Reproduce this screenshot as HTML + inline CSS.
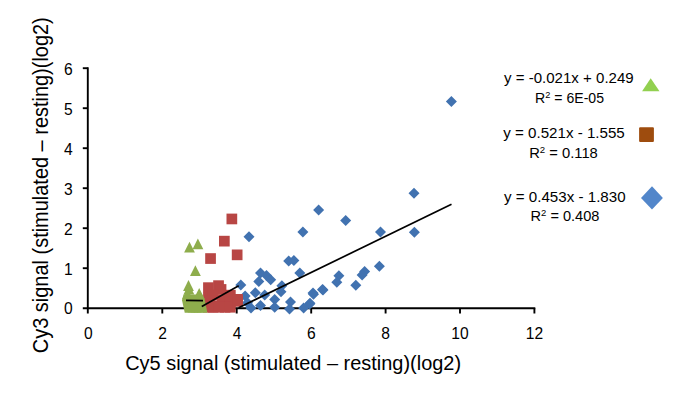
<!DOCTYPE html>
<html><head><meta charset="utf-8"><title>chart</title>
<style>
html,body{margin:0;padding:0;background:#fff;}
body{width:685px;height:397px;overflow:hidden;font-family:"Liberation Sans",sans-serif;}
svg{display:block;}
text{font-family:"Liberation Sans",sans-serif;fill:#000;}
</style></head><body>
<svg width="685" height="397" viewBox="0 0 685 397">
<rect width="685" height="397" fill="#fff"/>

<g stroke="#000" stroke-width="1.9" fill="none">
<path d="M87.8 67.3V313.5"/>
<path d="M82.8 308.2H535.3"/>
<path d="M82.8 268.2H87.8"/>
<path d="M82.8 228.2H87.8"/>
<path d="M82.8 188.2H87.8"/>
<path d="M82.8 148.2H87.8"/>
<path d="M82.8 108.2H87.8"/>
<path d="M82.8 68.2H87.8"/>
<path d="M162.3 308.2V313.5"/>
<path d="M236.7 308.2V313.5"/>
<path d="M311.2 308.2V313.5"/>
<path d="M385.6 308.2V313.5"/>
<path d="M460.0 308.2V313.5"/>
<path d="M534.4 308.2V313.5"/>
</g>
<g fill="#4172B0">
<path d="M240.8 279.4L246.3 284.9L240.8 290.4L235.3 284.9Z"/>
<path d="M245.1 290.6L250.6 296.1L245.1 301.6L239.6 296.1Z"/>
<path d="M255.3 287.2L260.8 292.7L255.3 298.2L249.8 292.7Z"/>
<path d="M258.8 276.0L264.3 281.5L258.8 287.0L253.3 281.5Z"/>
<path d="M260.5 267.5L266.0 273.0L260.5 278.5L255.0 273.0Z"/>
<path d="M266.5 270.0L272.0 275.5L266.5 281.0L261.0 275.5Z"/>
<path d="M270.7 274.3L276.2 279.8L270.7 285.3L265.2 279.8Z"/>
<path d="M264.7 289.4L270.2 294.9L264.7 300.4L259.2 294.9Z"/>
<path d="M251.0 302.6L256.5 308.1L251.0 313.6L245.5 308.1Z"/>
<path d="M260.5 300.0L266.0 305.5L260.5 311.0L255.0 305.5Z"/>
<path d="M274.7 294.0L280.2 299.5L274.7 305.0L269.2 299.5Z"/>
<path d="M274.7 301.7L280.2 307.2L274.7 312.7L269.2 307.2Z"/>
<path d="M281.9 280.3L287.4 285.8L281.9 291.3L276.4 285.8Z"/>
<path d="M281.0 286.3L286.5 291.8L281.0 297.3L275.5 291.8Z"/>
<path d="M288.7 255.5L294.2 261.0L288.7 266.5L283.2 261.0Z"/>
<path d="M293.9 255.1L299.4 260.6L293.9 266.1L288.4 260.6Z"/>
<path d="M299.8 267.5L305.3 273.0L299.8 278.5L294.3 273.0Z"/>
<path d="M290.5 296.6L296.0 302.1L290.5 307.6L285.0 302.1Z"/>
<path d="M289.5 303.4L295.0 308.9L289.5 314.4L284.0 308.9Z"/>
<path d="M303.6 302.6L309.1 308.1L303.6 313.6L298.1 308.1Z"/>
<path d="M309.6 298.6L315.1 304.1L309.6 309.6L304.1 304.1Z"/>
<path d="M313.0 287.5L318.5 293.0L313.0 298.5L307.5 293.0Z"/>
<path d="M322.5 284.1L328.0 289.6L322.5 295.1L317.0 289.6Z"/>
<path d="M247.5 297.2L253.0 302.7L247.5 308.2L242.0 302.7Z"/>
<path d="M249.0 231.2L254.5 236.7L249.0 242.2L243.5 236.7Z"/>
<path d="M414.0 187.7L419.5 193.2L414.0 198.7L408.5 193.2Z"/>
<path d="M318.6 204.5L324.1 210.0L318.6 215.5L313.1 210.0Z"/>
<path d="M345.7 215.0L351.2 220.5L345.7 226.0L340.2 220.5Z"/>
<path d="M302.9 226.5L308.4 232.0L302.9 237.5L297.4 232.0Z"/>
<path d="M380.5 226.6L386.0 232.1L380.5 237.6L375.0 232.1Z"/>
<path d="M414.4 226.8L419.9 232.3L414.4 237.8L408.9 232.3Z"/>
<path d="M379.4 260.8L384.9 266.3L379.4 271.8L373.9 266.3Z"/>
<path d="M364.6 266.1L370.1 271.6L364.6 277.1L359.1 271.6Z"/>
<path d="M362.1 269.6L367.6 275.1L362.1 280.6L356.6 275.1Z"/>
<path d="M355.8 279.8L361.3 285.3L355.8 290.8L350.3 285.3Z"/>
<path d="M338.9 270.3L344.4 275.8L338.9 281.3L333.4 275.8Z"/>
<path d="M336.8 276.7L342.3 282.2L336.8 287.7L331.3 282.2Z"/>
<path d="M323.0 284.4L328.5 289.9L323.0 295.4L317.5 289.9Z"/>
<path d="M313.5 288.7L319.0 294.2L313.5 299.7L308.0 294.2Z"/>
<path d="M310.0 297.8L315.5 303.3L310.0 308.8L304.5 303.3Z"/>
<path d="M451.4 95.9L456.9 101.4L451.4 106.9L445.9 101.4Z"/>
</g>
<g fill="#B84644">
<rect x="203.1" y="292.6" width="10.7" height="10.7"/>
<rect x="203.2" y="301.9" width="10.7" height="10.7"/>
<rect x="226.5" y="213.6" width="10.7" height="10.7"/>
<rect x="219.0" y="235.8" width="10.7" height="10.7"/>
<rect x="231.8" y="249.5" width="10.7" height="10.7"/>
<rect x="205.2" y="253.2" width="10.7" height="10.7"/>
<rect x="203.1" y="282.3" width="10.7" height="10.7"/>
<rect x="213.2" y="280.3" width="10.7" height="10.7"/>
<rect x="215.7" y="284.1" width="10.7" height="10.7"/>
<rect x="207.7" y="289.6" width="10.7" height="10.7"/>
<rect x="204.7" y="295.6" width="10.7" height="10.7"/>
<rect x="209.7" y="300.6" width="10.7" height="10.7"/>
<rect x="216.7" y="294.6" width="10.7" height="10.7"/>
<rect x="225.0" y="289.8" width="10.7" height="10.7"/>
<rect x="224.7" y="296.6" width="10.7" height="10.7"/>
<rect x="219.7" y="301.9" width="10.7" height="10.7"/>
<rect x="225.0" y="301.9" width="10.7" height="10.7"/>
<rect x="232.2" y="294.0" width="10.7" height="10.7"/>
<rect x="232.2" y="296.0" width="10.7" height="10.7"/>
<rect x="207.7" y="301.9" width="10.7" height="10.7"/>
<rect x="213.7" y="301.9" width="10.7" height="10.7"/>
</g>
<g fill="#8EAD4C">
<path d="M189.5 241.8L194.9 252.6L184.1 252.6Z"/>
<path d="M197.9 238.5L203.3 249.3L192.5 249.3Z"/>
<path d="M195.4 265.2L200.8 276.0L190.0 276.0Z"/>
<path d="M188.5 280.1L193.9 290.9L183.1 290.9Z"/>
<path d="M188.9 283.8L194.3 294.6L183.5 294.6Z"/>
<path d="M199.2 288.0L204.6 298.8L193.8 298.8Z"/>
<path d="M187.4 288.4L192.8 299.2L182.0 299.2Z"/>
<path d="M201.9 301.8L207.3 312.6L196.5 312.6Z"/>
<path d="M190.1 301.8L195.5 312.6L184.7 312.6Z"/>
<path d="M193.0 301.8L198.4 312.6L187.6 312.6Z"/>
<path d="M196.0 301.8L201.4 312.6L190.6 312.6Z"/>
<path d="M199.0 301.8L204.4 312.6L193.6 312.6Z"/>
<path d="M183.5 294.6L182 300.3L184.7 312.6H207.3L204.6 298.8L202 294.6Z"/>
</g>
<g stroke="#000" stroke-width="1.7" fill="none" stroke-linecap="butt">
<path d="M186 300.3L203 300.6"/>
<path d="M201.8 306.4L238.7 285.8"/>
<path d="M238.6 307.7L451.5 204.3"/>
</g>
<g font-size="15.6px">
<text x="72.8" y="314.4" text-anchor="end">0</text>
<text x="72.8" y="274.5" text-anchor="end">1</text>
<text x="72.8" y="234.5" text-anchor="end">2</text>
<text x="72.8" y="194.5" text-anchor="end">3</text>
<text x="72.8" y="154.6" text-anchor="end">4</text>
<text x="72.8" y="114.7" text-anchor="end">5</text>
<text x="72.8" y="74.7" text-anchor="end">6</text>
<text x="88.4" y="338.9" text-anchor="middle">0</text>
<text x="162.7" y="338.9" text-anchor="middle">2</text>
<text x="237.1" y="338.9" text-anchor="middle">4</text>
<text x="311.4" y="338.9" text-anchor="middle">6</text>
<text x="385.7" y="338.9" text-anchor="middle">8</text>
<text x="460.0" y="338.9" text-anchor="middle">10</text>
<text x="534.4" y="338.9" text-anchor="middle">12</text>
</g>
<text x="125.2" y="369.7" font-size="19.95px" textLength="335.9" lengthAdjust="spacingAndGlyphs">Cy5 signal (stimulated – resting)(log2)</text>
<text transform="translate(48.2 185.2) rotate(-90) scale(1 1.07)" font-size="19.95px" text-anchor="middle">Cy3 signal (stimulated – resting)(log2)</text>
<g font-size="15px" fill="#111">
<text x="504.0" y="83.0" textLength="129.7" lengthAdjust="spacingAndGlyphs">y = -0.021x + 0.249</text>
<text x="535.1" y="102.7" textLength="68.9" lengthAdjust="spacingAndGlyphs">R<tspan font-size="9.8px" dy="-5.2">2</tspan><tspan dy="5.2"> </tspan>= 6E-05</text>
<text x="503.2" y="138.0" textLength="121.6" lengthAdjust="spacingAndGlyphs">y = 0.521x - 1.555</text>
<text x="529.2" y="157.7" textLength="68.6" lengthAdjust="spacingAndGlyphs">R<tspan font-size="9.8px" dy="-5.2">2</tspan><tspan dy="5.2"> </tspan>= 0.118</text>
<text x="504.0" y="202.0" textLength="121.6" lengthAdjust="spacingAndGlyphs">y = 0.453x - 1.830</text>
<text x="530.5" y="221.4" textLength="68.9" lengthAdjust="spacingAndGlyphs">R<tspan font-size="9.8px" dy="-5.2">2</tspan><tspan dy="5.2"> </tspan>= 0.408</text>
</g>
<path d="M650.7 78.2L659.5 91.2H642.1Z" fill="#92D050"/>
<rect x="639.1" y="127.2" width="14.8" height="14.8" rx="1" fill="#9E4C0E"/>
<path d="M652 186.3L662.9 198L652 209.6L641 198Z" fill="#5286CA"/>
</svg></body></html>
